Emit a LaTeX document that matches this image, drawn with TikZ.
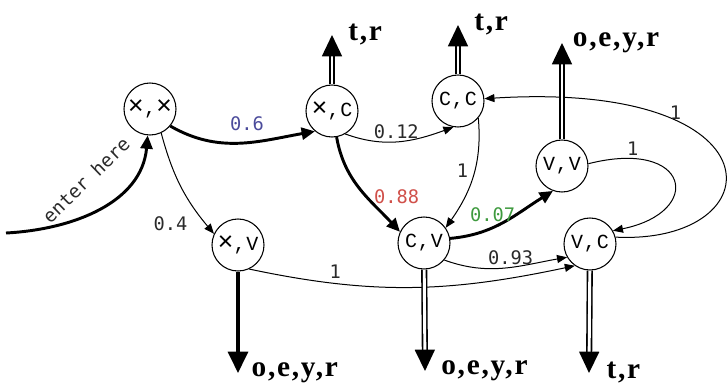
\documentclass[tikz,border=0pt]{standalone}
\usepackage{fontspec}
\usepackage{xcolor}
\usepackage{tikz}
\usetikzlibrary{arrows.meta,positioning}
\newfontfamily\statefont[LetterSpace=4]{Liberation Mono}
\newfontfamily\probfont{DejaVu Sans Mono}
\newfontfamily\outfont[LetterSpace=6]{Liberation Serif}
\newcommand{\crossmk}{{\fontsize{20}{13}\selectfont ×}}
\definecolor{probblue}{HTML}{4B4B9B}
\definecolor{probred}{HTML}{D0504A}
\definecolor{probgreen}{HTML}{3E9A3E}
\definecolor{probgray}{HTML}{2A2A2A}
\tikzset{
  state/.style={circle, draw=black, line width=0.8pt, minimum size=39pt, inner sep=0pt, font=\statefont\fontsize{15}{15}\selectfont},
  trans/.style={-{Triangle[length=7.5pt,width=6pt]}, line width=0.75pt},
  strong/.style={-{Triangle[length=10pt,width=9pt]}, line width=2.2pt},
  prob/.style={font=\probfont\fontsize{14}{14}\selectfont, text=probgray, inner sep=1.5pt},
  emit/.style={double, double distance=2.2pt, line width=1.2pt, -{Triangle[length=16pt,width=15pt]}},
  emitone/.style={line width=2.4pt, -{Triangle[length=16pt,width=15pt]}},
  outlbl/.style={font=\outfont\bfseries\fontsize{22}{22}\selectfont, inner sep=0pt},
}
\begin{document}
\begin{tikzpicture}[x=0.75pt,y=0.75pt]
  \useasboundingbox (0,0) rectangle (727,-389);
  % states
  \node[state] (xx) at (150,-109) {\crossmk,\crossmk};
  \node[state] (xc) at (332,-111) {\crossmk,C};
  \node[state] (cc) at (458,-101) {C,C};
  \node[state] (vv) at (562,-166) {V,V};
  \node[state] (xv) at (238,-245) {\crossmk,V};
  \node[state] (cv) at (424,-243) {C,V};
  \node[state] (vc) at (590,-244) {V,C};
  % entry
  \coordinate (enter) at (6,-233);
  \draw[strong] (enter) to[out=3,in=-95] (xx);
  \node[prob, rotate=44] (enterlbl) at (86,-180) {enter here};
  % transitions
  \draw[strong] (xx.-40) to[out=-30,in=190] node[prob, text=probblue, above=6pt, pos=0.55] (p06) {0.6} (xc.-130);
  \draw[trans] (xx.-65) to[out=-75,in=130] node[prob, left=12pt, pos=0.9] (p04) {0.4} (xv.155);
  \draw[trans] (xc.-60) to[out=-20,in=200] node[prob, above, pos=0.47] (p012) {0.12} (cc.-100);
  \draw[strong] (xc.-80) to[out=-80,in=133] node[prob, text=probred, right=3pt, pos=0.6] (p088) {0.88} (cv.155);
  \draw[trans] (cc.-40) to[out=-85,in=55] node[prob, left=3pt, pos=0.45] (p1cc) {1} (cv.35);
  \draw[strong] (cv.10) to[out=5,in=212] node[prob, text=probgreen, above=2pt, pos=0.38] (p007) {0.07} (vv.-110);
  \draw[trans] (cv.-40) to[out=-20,in=190] node[prob, above, pos=0.55] (p093) {0.93} (vc.-150);
  \draw[trans] (xv.-65) to[out=-12,in=192] node[prob, above=2pt, pos=0.25] (p1xv) {1} (vc.-125);
  \draw[trans] (vv.5) .. controls (690,-138) and (705,-212) .. node[prob, above, pos=0.17] (p1vv) {1} (vc.30);
  \draw[trans] (vc.15) .. controls (775,-245) and (785,-80) .. node[prob, above, pos=0.7] (p1vc) {1} (cc.5);
  % emissions
  \coordinate (xcup) at (332,-35);
  \coordinate (ccup) at (458,-25);
  \coordinate (vvup) at (562,-43);
  \coordinate (xvdown) at (238,-373);
  \coordinate (cvdown) at (425,-371);
  \coordinate (vcdown) at (589,-373);
  \draw[emit] (xc) -- (xcup);
  \draw[emit] (cc) -- (ccup);
  \draw[emit] (vv) -- (vvup);
  \draw[emitone] (xv) -- (xvdown);
  \draw[emit] (cv) -- (cvdown);
  \draw[emit] (vc) -- (vcdown);
  \node[outlbl, right=12pt of xcup] (xcout) {t,r};
  \node[outlbl, right=12pt of ccup] (ccout) {t,r};
  \node[outlbl, right=8pt of vvup] (vvout) {o,e,y,r};
  \node[outlbl, right=10pt of xvdown] (xvout) {o,e,y,r};
  \node[outlbl, right=12pt of cvdown] (cvout) {o,e,y,r};
  \node[outlbl, right=13pt of vcdown] (vcout) {t,r};
\end{tikzpicture}
\end{document}
